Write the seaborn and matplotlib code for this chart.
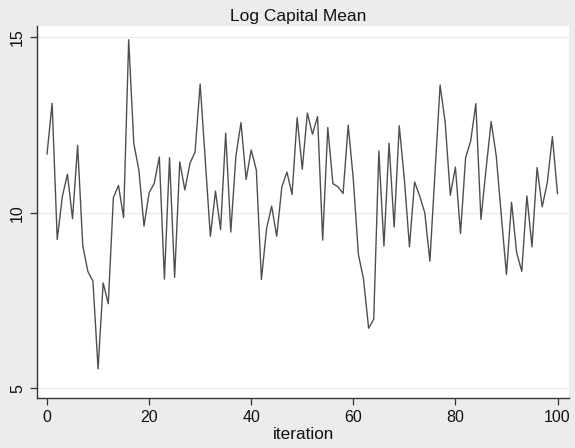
import numpy as np
import pandas as pd
import seaborn as sns
import matplotlib
matplotlib.use("Agg")
import matplotlib.pyplot as plt

iteration = list(range(101))
log_capital_mean = [
    11.67, 13.12, 9.24, 10.46, 11.10, 9.83, 11.92, 9.07, 8.33, 8.05,
    5.55, 8.00, 7.41, 10.43, 10.78, 9.86, 14.93, 11.98, 11.21, 9.62,
    10.57, 10.84, 11.59, 8.11, 11.57, 8.16, 11.45, 10.65, 11.41, 11.73,
    13.67, 11.50, 9.33, 10.62, 9.52, 12.27, 9.45, 11.62, 12.57, 10.95,
    11.79, 11.22, 8.10, 9.54, 10.19, 9.33, 10.74, 11.16, 10.52, 12.71,
    11.24, 12.84, 12.24, 12.74, 9.22, 12.43, 10.83, 10.74, 10.55, 12.50,
    10.95, 8.81, 8.11, 6.71, 6.97, 11.76, 9.05, 11.98, 9.59, 12.48,
    10.95, 9.03, 10.88, 10.48, 10.00, 8.62, 11.14, 13.64, 12.57, 10.50,
    11.30, 9.41, 11.57, 12.05, 13.11, 9.81, 11.24, 12.60, 11.62, 9.90,
    8.24, 10.30, 8.86, 8.33, 10.48, 9.03, 11.29, 10.17, 10.86, 12.17,
    10.54,
]
x_ticks = [0, 20, 40, 60, 80, 100]
y_ticks = [5, 10, 15]

df = pd.DataFrame({"iteration": iteration, "value": log_capital_mean})

sns.set_theme(style="white")
plt.rcParams["font.family"] = ["Liberation Sans", "DejaVu Sans"]

fig = plt.figure(figsize=(5.75, 4.48), dpi=100)
fig.patch.set_facecolor("#ececec")
ax = fig.add_axes([0.064, 0.111, 0.926, 0.830])
ax.set_facecolor("white")

sns.lineplot(data=df, x="iteration", y="value", ax=ax,
             color="#4f4f4f", linewidth=1.0)

ax.set_xlim(-2.0, 102.3)
ax.set_ylim(4.714, 15.31)
ax.set_xticks(x_ticks)
ax.set_yticks(y_ticks)
ax.set_yticklabels([str(v) for v in y_ticks], rotation=90, va="center")
ax.grid(axis="y", color="#ececec", linewidth=1.0)
ax.grid(axis="x", visible=False)

for side in ("top", "right"):
    ax.spines[side].set_visible(False)
for side in ("left", "bottom"):
    ax.spines[side].set_color("#333333")
    ax.spines[side].set_linewidth(1.0)

ax.tick_params(axis="both", which="major", direction="out", length=5,
               width=0.9, color="#333333", labelsize=11.5, labelcolor="#111111",
               bottom=True, left=True, pad=3.5)

ax.set_xlabel("iteration", fontsize=12.3, color="#111111", labelpad=1.5)
ax.set_ylabel("")
fig.text(0.518, 0.954, "Log Capital Mean", ha="center", va="baseline",
         fontsize=12.5, color="#111111")

fig.savefig("out.png", dpi=100, facecolor=fig.get_facecolor())
